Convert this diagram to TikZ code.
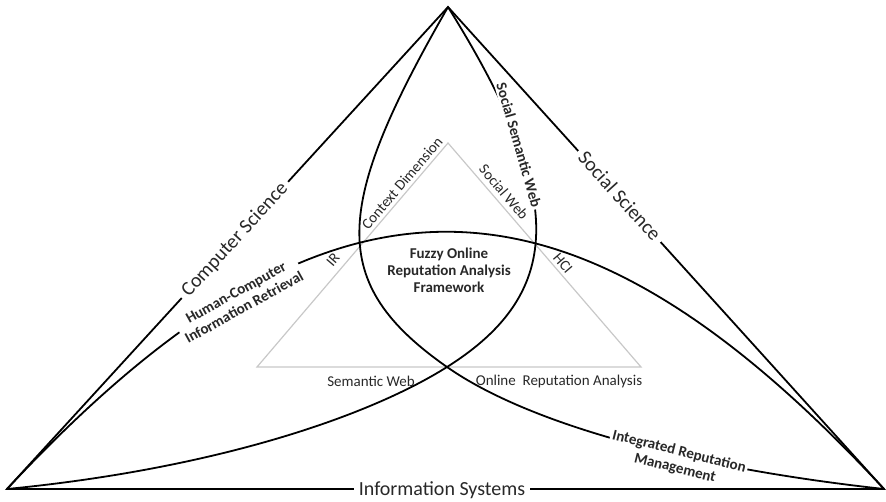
\documentclass[tikz,border=0pt]{standalone}
\usepackage{fontspec}
\setmainfont{Carlito}
\definecolor{innergray}{RGB}{200,200,200}
\definecolor{labelgray}{RGB}{40,40,40}
\begin{document}
\begin{tikzpicture}[x=1pt,y=-1pt,
  edge/.style={line width=1.8pt, black},
  innerline/.style={line width=1.2pt, innergray},
  big/.style={font=\fontsize{20}{24}\selectfont, text=labelgray, fill=white, inner xsep=5pt, inner ysep=1pt},
  tag/.style={font=\bfseries\fontsize{15}{17}\selectfont, text=labelgray, fill=white, align=center, inner sep=2pt},
  small/.style={font=\fontsize{15}{18}\selectfont, text=labelgray, inner sep=0pt},
  center/.style={font=\bfseries\fontsize{15}{17}\selectfont, text=labelgray, align=center, inner sep=0pt},
]
\useasboundingbox (0,0) rectangle (886,501);
% vertices
\coordinate (T) at (448,7);
\coordinate (L) at (7,489);
\coordinate (R) at (884,489);
\coordinate (X) at (447,367);
\coordinate (it) at (448,143);
\coordinate (il) at (257,367);
\coordinate (ir) at (641,367);
% inner gray triangle
\draw[innerline] (it) -- (il) -- (ir) -- cycle;
\node[small, rotate=49.5] (cd) at (402,183) {Context Dimension};
\node[small, rotate=-49.5] (sw) at (504,192) {Social Web};
\node[small, rotate=49.5] (ir2) at (333,260) {IR};
\node[small, rotate=-49.5] (hci) at (563,263) {HCI};
\node[small] (sem) at (371,381) {Semantic Web};
\node[small] (ora) at (559,381) {Online\ \ Reputation Analysis};
% curves
\draw[edge] (T) .. controls (333,207) and (327,283) .. (X)
            .. controls (527,423) and (684,467) .. (R);
\draw[edge] (T) .. controls (564.6,194) and (567,291.4) .. (X)
            .. controls (367,417.4) and (213,469) .. (L);
\draw[edge] (L) .. controls (327,146) and (566,146) .. (R);
% curve labels
\node[tag, rotate=29] (hcir) at (240,300) {Human-Computer\\Information Retrieval};
\node[tag, rotate=-74] (ssw) at (519,145) {Social Semantic Web};
\node[tag, rotate=-14] (irm) at (677,460) {Integrated Reputation\\Management};
% outer triangle
\draw[edge] (T) -- (L) -- (R) -- cycle;
\node[big, rotate=47.5] (cs) at (235,240) {Computer Science};
\node[big, rotate=-47.9] (ss) at (620,196) {Social Science};
\node[big] (is) at (442,490) {Information Systems};
% centre
\node[center] (fora) at (449,270) {Fuzzy Online\\Reputation Analysis\\Framework};
\end{tikzpicture}
\end{document}
